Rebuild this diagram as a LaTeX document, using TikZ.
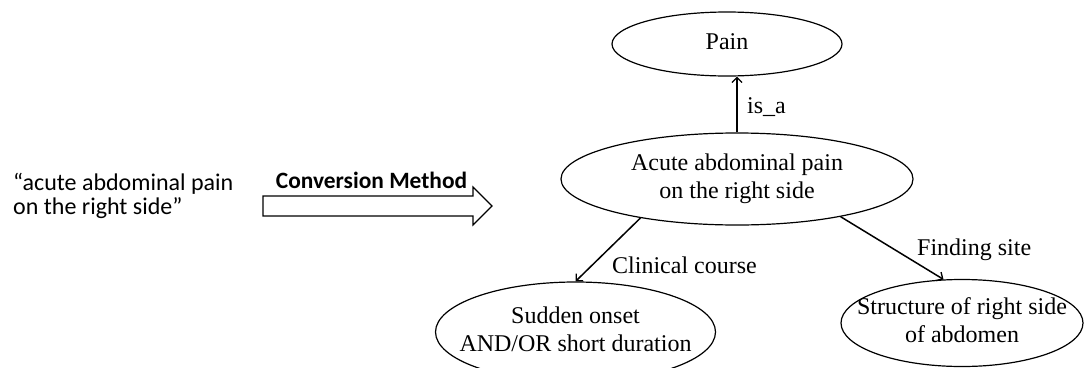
\documentclass[tikz,border=0pt]{standalone}
\usepackage{fontspec}
\setmainfont{Liberation Serif}
\newfontfamily\calib{Carlito}
\usetikzlibrary{arrows.meta,shapes.geometric}

% centred multi-line text of zero width, so the ellipse keeps its given size
\newcommand{\ctxt}[1]{\makebox[0pt]{\begin{tabular}{@{}c@{}}#1\end{tabular}}}

\begin{document}
\begin{tikzpicture}[x=1pt,y=-1pt,
  concept/.style={draw=black, line width=1.2pt, ellipse, inner sep=0pt,
    font=\fontsize{24}{28.5}\selectfont},
  rel/.style={draw=black, line width=1.5pt, -{Straight Barb[length=5pt,width=10pt,line width=1.3pt]}},
  rellabel/.style={font=\fontsize{24}{28.5}\selectfont, inner sep=0pt, anchor=base west},
  plain/.style={font=\calib\fontsize{24}{24.5}\selectfont, inner sep=0pt, align=left}
]
\useasboundingbox (0,0) rectangle (1086,367);

% input phrase and conversion arrow
\node[plain, anchor=west] (phrase) at (13,196) {“acute abdominal pain\\on the right side”};
\node[font=\calib\bfseries\fontsize{23.4}{26}\selectfont, inner sep=0pt, anchor=base] (method) at (371.5,188) {Conversion Method};
\draw[line width=1.2pt, fill=white] (263,196) -- (473,196) -- (473,187) -- (492,206)
  -- (473,225) -- (473,216) -- (263,216) -- cycle;

% concept graph
\node[concept, minimum width=230pt, minimum height=64pt] (pain) at (727,44) {\ctxt{Pain}};
\node[concept, minimum width=352pt, minimum height=92pt] (acute) at (737,179)
  {\ctxt{Acute abdominal pain\\on the right side}};
\node[concept, minimum width=280pt, minimum height=100pt] (sudden) at (575.5,332)
  {\ctxt{Sudden onset\\AND/OR short duration}};
\node[concept, minimum width=242pt, minimum height=87pt] (structure) at (962,323)
  {\ctxt{Structure of right side\\of abdomen}};

% relations
\draw[rel] (acute.north) -- (acute.north |- pain.south);
\node[rellabel] (isa) at (747,113) {is\_a};
\draw[rel] (acute.202) -- (sudden.north);
\node[rellabel] (course) at (612,273) {Clinical course};
\draw[rel] (acute.340) -- (structure.113);
\node[rellabel] (site) at (917,255) {Finding site};
\end{tikzpicture}
\end{document}
